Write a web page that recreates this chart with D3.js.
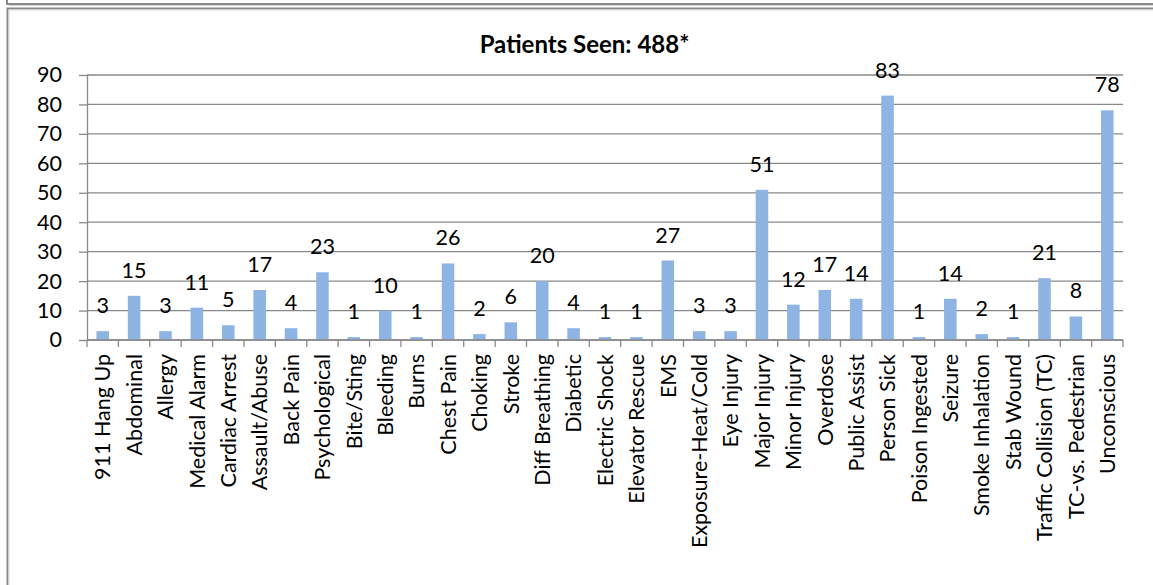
<!DOCTYPE html>
<html>
<head>
<meta charset="utf-8">
<script src="https://cdn.jsdelivr.net/npm/d3@7"></script>
<style>
  html, body { margin: 0; padding: 0; background: #fff; }
  svg { display: block; }
  text { font-family: Lato, "Open Sans", sans-serif; fill: #000; }
</style>
</head>
<body>
<svg id="chart" width="1153" height="585"></svg>
<script>
const categories = ["911 Hang Up","Abdominal","Allergy","Medical Alarm","Cardiac Arrest","Assault/Abuse","Back Pain","Psychological","Bite/Sting","Bleeding","Burns","Chest Pain","Choking","Stroke","Diff Breathing","Diabetic","Electric Shock","Elevator Rescue","EMS","Exposure-Heat/Cold","Eye Injury","Major Injury","Minor Injury","Overdose","Public Assist","Person Sick","Poison Ingested","Seizure","Smoke Inhalation","Stab Wound","Traffic Collision (TC)","TC-vs. Pedestrian","Unconscious"];
const values = [3,15,3,11,5,17,4,23,1,10,1,26,2,6,20,4,1,1,27,3,3,51,12,17,14,83,1,14,2,1,21,8,78];
const yTicks = [0,10,20,30,40,50,60,70,80,90];
const title = "Patients Seen: 488*";

const svg = d3.select("#chart");
const W = 1153, H = 585;
const plot = { left: 87, right: 1123, top: 75, bottom: 340 };
const grey = "#898989";

// Frames
svg.append("path")
  .attr("d", `M7,0 V4 H${W}`)
  .attr("fill", "none").attr("stroke", grey).attr("stroke-width", 2);
svg.append("path")
  .attr("d", `M${W},5.5 H9`)
  .attr("fill", "none").attr("stroke", "#d6d6d6").attr("stroke-width", 1);
svg.append("path")
  .attr("d", `M${W},8.5 H7.5 V${H}`)
  .attr("fill", "none").attr("stroke", grey).attr("stroke-width", 2);
svg.append("path")
  .attr("d", `M${W},10 H9 V${H}`)
  .attr("fill", "none").attr("stroke", "#dcdcdc").attr("stroke-width", 1);

const x = d3.scaleBand().domain(categories).range([plot.left, plot.right]).paddingInner(0).paddingOuter(0);
const y = d3.scaleLinear().domain([0, 90]).range([plot.bottom, plot.top]);

// Gridlines + y ticks
const yAxis = d3.axisLeft(y).tickValues(yTicks).tickSize(8).tickPadding(17).tickFormat(d3.format("d"));
const gy = svg.append("g").attr("transform", `translate(${plot.left},0)`).call(yAxis);
gy.select(".domain").attr("stroke", grey).attr("stroke-width", 1.3).attr("d", `M0.5,${plot.top}V${plot.bottom}`);
gy.selectAll(".tick line").attr("stroke", grey).attr("stroke-width", 1.3);
gy.selectAll(".tick text").style("font-size", "21.5px").attr("fill", "#000");

svg.append("g").selectAll("line").data(yTicks).join("line")
  .attr("x1", plot.left).attr("x2", plot.right)
  .attr("y1", d => y(d)).attr("y2", d => y(d))
  .attr("stroke", grey).attr("stroke-width", 1.3);

// Bars
const barW = x.bandwidth() / 2.5;
svg.append("g").selectAll("rect").data(values).join("rect")
  .attr("x", (d, i) => x(categories[i]) + (x.bandwidth() - barW) / 2)
  .attr("width", barW)
  .attr("y", d => y(d))
  .attr("height", d => y(0) - y(d))
  .attr("fill", "#8EB4E3");

// Redraw baseline over bars
svg.append("line").attr("x1", plot.left).attr("x2", plot.right)
  .attr("y1", y(0)).attr("y2", y(0)).attr("stroke", grey).attr("stroke-width", 1.3);

// x ticks at category boundaries
const bounds = categories.map(c => x(c)).concat([plot.right]);
svg.append("g").selectAll("line").data(bounds).join("line")
  .attr("x1", d => d).attr("x2", d => d)
  .attr("y1", plot.bottom).attr("y2", plot.bottom + 7)
  .attr("stroke", grey).attr("stroke-width", 1.3);

// Category labels
svg.append("g").selectAll("text").data(categories).join("text")
  .attr("transform", d => `translate(${x(d) + x.bandwidth() / 2},354) rotate(-90)`)
  .attr("text-anchor", "end")
  .attr("dy", "0.36em")
  .style("font-size", "21.5px")
  .text(d => d);

// Value labels
svg.append("g").selectAll("text").data(values).join("text")
  .attr("x", (d, i) => x(categories[i]) + x.bandwidth() / 2)
  .attr("y", d => y(d) - 18)
  .attr("text-anchor", "middle")
  .style("font-size", "21.5px")
  .text(d => d);

// Title
svg.append("text")
  .attr("x", 584.5).attr("y", 53)
  .attr("text-anchor", "middle")
  .style("font-size", "24px").style("font-weight", "bold")
  .text(title);
</script>
</body>
</html>
